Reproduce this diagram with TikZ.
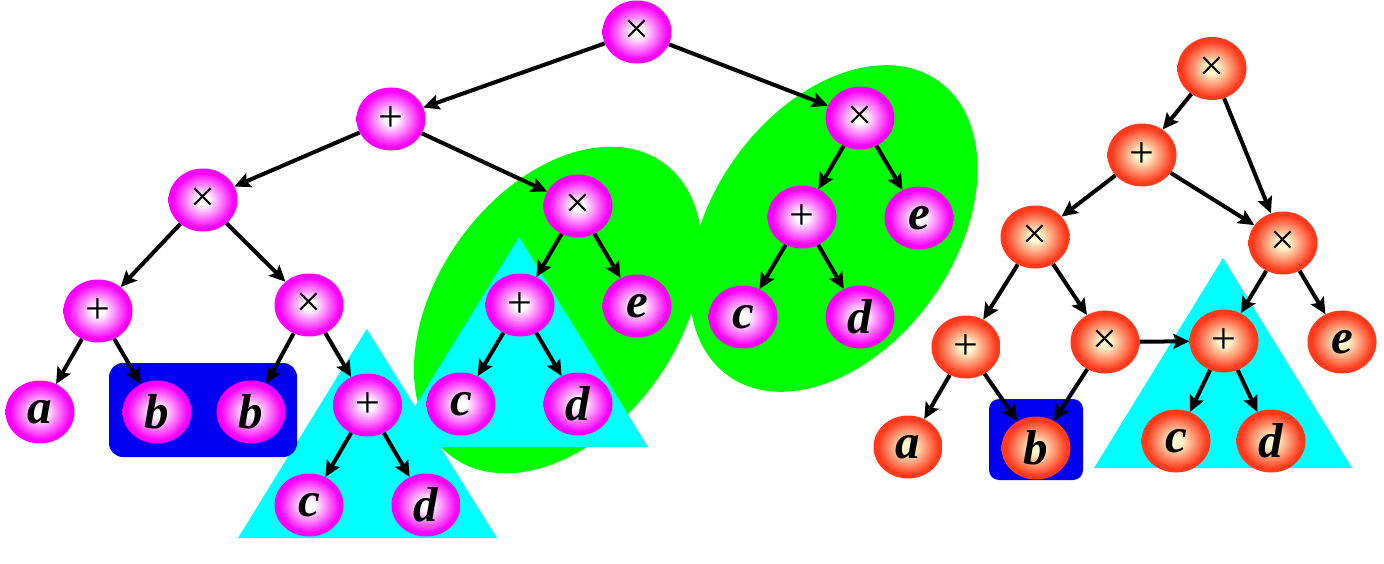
\documentclass[tikz,border=0pt]{standalone}
\usepackage{fontspec}
\setmainfont{Liberation Serif}
\usetikzlibrary{shapes.geometric,arrows.meta}
\definecolor{pinkA}{RGB}{250,0,250}
\definecolor{orgA}{RGB}{255,58,28}
\definecolor{orgB}{RGB}{255,248,205}
\definecolor{grn}{RGB}{0,255,0}
\definecolor{cyn}{RGB}{0,255,255}
\definecolor{blu}{RGB}{0,0,240}
\pgfdeclareradialshading{pinkball}{\pgfpointorigin}{color(0bp)=(white); color(4bp)=(white); color(22bp)=(pinkA); color(25bp)=(pinkA); color(50bp)=(pinkA)}
\pgfdeclareradialshading{orangeball}{\pgfpointorigin}{color(0bp)=(orgB); color(4bp)=(orgB); color(22bp)=(orgA); color(25bp)=(orgA); color(50bp)=(orgA)}
\begin{document}
\begin{tikzpicture}[x=1pt,y=-1pt,
  nd/.style={ellipse, minimum width=69pt, minimum height=63pt, inner sep=0pt},
  pk/.style={nd, shading=pinkball},
  og/.style={nd, shading=orangeball},
  op/.style={font=\fontsize{44}{44}\selectfont},
  lt/.style={font=\fontsize{49}{49}\selectfont\bfseries\itshape},
  arr/.style={line width=4pt, -{Stealth[length=16pt,width=15pt,inset=3pt]}},
]
\path[use as bounding box] (0,0) rectangle (1384,564);
% green ellipses
\fill[grn, rotate around={54.5:(558,310)}] (558,310) ellipse [x radius=181, y radius=121];
\fill[grn, rotate around={54.5:(833.5,228.5)}] (833.5,228.5) ellipse [x radius=181, y radius=121];
% cyan triangles
\fill[cyn] (366.7,329) -- (238,538) -- (497,538) -- cycle;
\fill[cyn] (519,237) -- (390,447) -- (648,447) -- cycle;
\fill[cyn] (1223,258) -- (1094,468) -- (1352,468) -- cycle;
% blue boxes
\fill[blu, rounded corners=14pt] (109,363) rectangle (297,457);
\fill[blu, rounded corners=10pt] (989,399) rectangle (1083,480);
% left tree nodes
\node[pk,op] (L1) at (637,32) {×};
\node[pk,op] (L2) at (391,119) {+};
\node[pk,op] (L3) at (860,118) {×};
\node[pk,op] (L4) at (203,200) {×};
\node[pk,op] (L5) at (578,206) {×};
\node[pk,op] (L6) at (98,311) {+};
\node[pk,op] (L7) at (309,305) {×};
\node[pk,lt] (L8) at (40,412) {a};
\node[pk,lt] (L9) at (157,412) {b};
\node[pk,lt] (L10) at (251,412) {b};
\node[pk,op] (L11) at (367.5,405) {+};
\node[pk,lt] (L12) at (309,505) {c};
\node[pk,lt] (L13) at (426,505) {d};
\node[pk,op] (L14) at (520,305) {+};
\node[pk,lt] (L15) at (637,306) {e};
\node[pk,lt] (L16) at (461,404) {c};
\node[pk,lt] (L17) at (578,404) {d};
\node[pk,op] (L18) at (802,217) {+};
\node[pk,lt] (L19) at (919,218) {e};
\node[pk,lt] (L20) at (743,317) {c};
\node[pk,lt] (L21) at (860,317) {d};
% right tree nodes
\node[og,op] (R1) at (1212,68.5) {×};
\node[og,op] (R2) at (1142,155) {+};
\node[og,op] (R3) at (1035,237) {×};
\node[og,op] (R4) at (1283,243) {×};
\node[og,op] (R5) at (966,347) {+};
\node[og,op] (R6) at (1105,342) {×};
\node[og,op] (R7) at (1224,341) {+};
\node[og,lt] (R8) at (1342,342) {e};
\node[og,lt] (R9) at (908,447) {a};
\node[og,lt] (R10) at (1036,448) {b};
\node[og,lt] (R11) at (1176,441) {c};
\node[og,lt] (R12) at (1271,441) {d};
% left tree edges
\draw[arr] (L1) -- (L2);
\draw[arr] (L1) -- (L3);
\draw[arr] (L2) -- (L4);
\draw[arr] (L2) -- (L5);
\draw[arr] (L4) -- (L6);
\draw[arr] (L4) -- (L7);
\draw[arr] (L6) -- (L8);
\draw[arr] (L6) -- (L9);
\draw[arr] (L7) -- (L10);
\draw[arr] (L7) -- (L11);
\draw[arr] (L11) -- (L12);
\draw[arr] (L11) -- (L13);
\draw[arr] (L5) -- (L14);
\draw[arr] (L5) -- (L15);
\draw[arr] (L14) -- (L16);
\draw[arr] (L14) -- (L17);
\draw[arr] (L3) -- (L18);
\draw[arr] (L3) -- (L19);
\draw[arr] (L18) -- (L20);
\draw[arr] (L18) -- (L21);
% right tree edges
\draw[arr] (R1) -- (R2);
\draw[arr] (R1) -- (R4);
\draw[arr] (R2) -- (R3);
\draw[arr] (R2) -- (R4);
\draw[arr] (R3) -- (R5);
\draw[arr] (R3) -- (R6);
\draw[arr] (R5) -- (R9);
\draw[arr] (R5) -- (R10);
\draw[arr] (R6) -- (R10);
\draw[arr] (R6) -- (R7);
\draw[arr] (R4) -- (R7);
\draw[arr] (R4) -- (R8);
\draw[arr] (R7) -- (R11);
\draw[arr] (R7) -- (R12);
\end{tikzpicture}
\end{document}
